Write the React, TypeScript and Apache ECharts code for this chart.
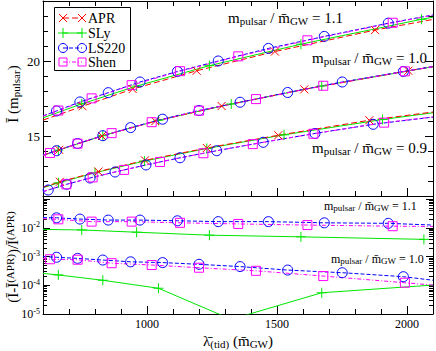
import React, { useEffect, useRef } from 'react';
import * as echarts from 'echarts';

const FONT = 'Liberation Serif';

// axis ranges and tick labels
const X_MIN = 600;
const X_MAX = 2100;
const X_MAJOR = [1000, 1500, 2000];
const Y_TOP_MIN = 11;
const Y_TOP_MAX = 24;
const Y_TOP_MAJOR = [15, 20];
const LOG_MIN = 1e-5;
const LOG_MAX = 0.13;

const EOS = ['APR', 'SLy', 'LS220', 'Shen'];
const RATIOS_TOP = ['1.1', '1.0', '0.9'];
const RATIOS_BOTTOM = ['1.1', '1.0'];

// [lambda_tid, I, 1 = marker / 0 = plain line point]
// m_pulsar / m_GW = 1.1
const APR_11 = [[600, 16.06, 0], [752, 16.98, 1], [945, 18.13, 1], [1191, 19.35, 1], [1492, 20.63, 1], [1877, 22.06, 1], [2100, 22.77, 0]];
const SLY_11 = [[600, 16.21, 0], [749, 17.14, 1], [960, 18.33, 1], [1240, 19.69, 1], [1592, 21.12, 1], [2056, 22.78, 1], [2100, 22.92, 0]];
const LS_11 = [[600, 16.34, 0], [652, 16.67, 1], [742, 17.27, 1], [851, 17.89, 1], [973, 18.6, 1], [1117, 19.3, 1], [1274, 20.0, 1], [1467, 20.84, 1], [1682, 21.64, 1], [1928, 22.52, 1], [2100, 23.07, 0]];
const SHEN_11 = [[600, 16.32, 0], [659, 16.7, 1], [787, 17.51, 1], [941, 18.39, 1], [1127, 19.32, 1], [1351, 20.31, 1], [1617, 21.38, 1], [1945, 22.55, 1], [2100, 23.05, 0]];
// m_pulsar / m_GW = 1.0
const APR_10 = [[600, 13.71, 0], [662, 14.08, 1], [827, 15.0, 1], [1032, 15.99, 1], [1287, 17.0, 1], [1605, 18.11, 1], [2005, 19.35, 1], [2100, 19.62, 0]];
const SLY_10 = [[600, 13.71, 0], [659, 14.06, 1], [830, 15.02, 1], [1044, 16.05, 1], [1324, 17.13, 1], [1672, 18.34, 1], [2100, 19.62, 0]];
const LS_10 = [[600, 13.72, 0], [652, 14.02, 1], [733, 14.5, 1], [830, 15.02, 1], [937, 15.56, 1], [1060, 16.12, 1], [1200, 16.7, 1], [1358, 17.25, 1], [1541, 17.9, 1], [1751, 18.6, 1], [1986, 19.3, 1], [2100, 19.63, 0]];
const SHEN_10 = [[600, 13.71, 0], [627, 13.87, 1], [733, 14.49, 1], [864, 15.19, 1], [1018, 15.92, 1], [1200, 16.69, 1], [1419, 17.46, 1], [1678, 18.35, 1], [1992, 19.31, 1], [2100, 19.62, 0]];
// m_pulsar / m_GW = 0.9
const APR_09 = [[600, 11.58, 0], [665, 11.95, 1], [813, 12.63, 1], [992, 13.38, 1], [1230, 14.2, 1], [1505, 15.05, 1], [1855, 16.05, 1], [2100, 16.6, 0]];
const SLY_09 = [[600, 11.55, 0], [660, 11.88, 1], [800, 12.55, 1], [990, 13.33, 1], [1230, 14.17, 1], [1527, 15.08, 1], [1906, 16.1, 1], [2100, 16.55, 0]];
const LS_09 = [[600, 11.28, 0], [620, 11.4, 1], [691, 11.78, 1], [781, 12.2, 1], [877, 12.6, 1], [996, 13.07, 1], [1127, 13.55, 1], [1268, 14.02, 1], [1447, 14.58, 1], [1646, 15.17, 1], [1870, 15.78, 1], [2100, 16.26, 0]];
const SHEN_09 = [[600, 11.3, 0], [690, 11.78, 1], [791, 12.24, 1], [912, 12.74, 1], [1050, 13.27, 1], [1217, 13.85, 1], [1407, 14.46, 1], [1640, 15.15, 1], [1912, 15.89, 1], [2100, 16.27, 0]];

// relative difference (I - I_APR) / I_APR
const SLY_D11 = [[600, 0.0089, 0], [749, 0.0085, 1], [960, 0.0071, 1], [1240, 0.0056, 1], [1592, 0.0049, 1], [2065, 0.004, 1]];
const LS_D11 = [[600, 0.0229, 0], [652, 0.0226, 1], [742, 0.0204, 1], [851, 0.0188, 1], [973, 0.0188, 1], [1117, 0.0178, 1], [1274, 0.0166, 1], [1467, 0.0166, 1], [1682, 0.0151, 1], [1928, 0.0145, 1], [2100, 0.0126, 0]];
const SHEN_D11 = [[600, 0.021, 0], [659, 0.02, 1], [787, 0.0166, 1], [941, 0.0166, 1], [1127, 0.0151, 1], [1351, 0.0138, 1], [1617, 0.0126, 1], [1945, 0.0115, 1], [2100, 0.0113, 0]];
const SLY_D10 = [[600, 0.00026, 0], [659, 0.00023, 1], [830, 0.00015, 1], [1044, 0.000079, 1], [1324, 0.0000065, 0], [1672, 0.000055, 1], [2100, 0.000102, 0]];
const LS_D10 = [[600, 0.001, 0], [652, 0.00095, 1], [733, 0.00087, 1], [830, 0.00076, 1], [937, 0.00066, 1], [1060, 0.00062, 1], [1200, 0.00054, 1], [1358, 0.00045, 1], [1541, 0.00034, 1], [1751, 0.000275, 1], [1986, 0.0002, 1], [2100, 0.00015, 0]];
const SHEN_D10 = [[600, 0.00085, 0], [627, 0.00081, 1], [733, 0.00078, 1], [864, 0.00059, 1], [1018, 0.00051, 1], [1200, 0.00041, 1], [1419, 0.00032, 1], [1678, 0.00021, 1], [1992, 0.000123, 1], [2100, 0.000102, 0]];

const CROSS = 'path://M0,0L10,10M10,0L0,10';
const PLUS = 'path://M5,0L5,10M0,5L10,5';

const STYLE: Record<string, any> = {
  APR: { color: '#ff0000', dash: [6, 3], symbol: CROSS, size: 8 },
  SLy: { color: '#00e600', dash: 'solid', symbol: PLUS, size: 10 },
  LS220: { color: '#0000ff', dash: [4, 2], symbol: 'circle', size: 10 },
  Shen: { color: '#ff00ff', dash: [4, 2, 1, 2], symbol: 'rect', size: 9 },
};

function mkSeries(name: string, eos: string, pts: number[][], xi: number, yi: number) {
  const s = STYLE[eos];
  return {
    type: 'line',
    name,
    xAxisIndex: xi,
    yAxisIndex: yi,
    data: pts.map((p) => (p[2] ? { value: [p[0], p[1]] } : { value: [p[0], p[1]], symbol: 'none' })),
    symbol: s.symbol,
    symbolSize: s.size,
    showSymbol: true,
    clip: true,
    silent: true,
    lineStyle: { color: s.color, width: 1, type: s.dash },
    itemStyle: { color: 'rgba(0,0,0,0)', borderColor: s.color, borderWidth: 1 },
    emphasis: { disabled: true },
  };
}

const LOG_MINOR: number[] = [];
for (let n = -5; n <= -1; n++) {
  for (let k = 2; k <= 9; k++) {
    const v = n + Math.log10(k);
    if (v < Math.log10(LOG_MAX)) LOG_MINOR.push(v);
  }
}

const TICK = { color: '#000', width: 1 };
const noSplit = { show: false };

function xAxes(grid: number, pos: string, labels: boolean) {
  return [
    {
      gridIndex: grid, type: 'value', position: pos, min: X_MIN, max: X_MAX,
      axisLine: { show: true, onZero: false, lineStyle: TICK },
      axisTick: { show: true, inside: true, length: 8, customValues: X_MAJOR, lineStyle: TICK },
      axisLabel: labels
        ? { show: true, customValues: X_MAJOR, formatter: (v: number) => String(v), color: '#000', fontFamily: FONT, fontSize: 12, margin: 4 }
        : { show: false },
      splitLine: noSplit,
    },
    {
      gridIndex: grid, type: 'value', position: pos, min: X_MIN, max: X_MAX, interval: 100,
      axisLine: { show: false, onZero: false },
      axisTick: { show: true, inside: true, length: 5, lineStyle: TICK },
      axisLabel: { show: false },
      splitLine: noSplit,
    },
  ];
}

function yTopAxes(pos: string, labels: boolean) {
  return [
    {
      gridIndex: 0, type: 'value', position: pos, min: Y_TOP_MIN, max: Y_TOP_MAX,
      axisLine: { show: true, onZero: false, lineStyle: TICK },
      axisTick: { show: true, inside: true, length: 8, customValues: Y_TOP_MAJOR, lineStyle: TICK },
      axisLabel: labels
        ? { show: true, customValues: Y_TOP_MAJOR, formatter: (v: number) => String(v), color: '#000', fontFamily: FONT, fontSize: 13, margin: 3 }
        : { show: false },
      splitLine: noSplit,
    },
    {
      gridIndex: 0, type: 'value', position: pos, min: Y_TOP_MIN, max: Y_TOP_MAX, interval: 1,
      axisLine: { show: false, onZero: false },
      axisTick: { show: true, inside: true, length: 5, lineStyle: TICK },
      axisLabel: { show: false },
      splitLine: noSplit,
    },
  ];
}

function yLogAxes(pos: string, labels: boolean) {
  return [
    {
      gridIndex: 1, type: 'log', position: pos, min: LOG_MIN, max: LOG_MAX, logBase: 10,
      axisLine: { show: true, onZero: false, lineStyle: TICK },
      axisTick: { show: true, inside: true, length: 7, lineStyle: TICK },
      axisLabel: labels
        ? {
            show: true,
            margin: 3,
            fontFamily: FONT,
            formatter: (v: number) => {
              const l = Math.log10(v);
              const e = Math.round(l);
              if (Math.abs(l - e) > 0.01 || e > -2) return '';
              return `{b|10}{s|${e}}`;
            },
            rich: {
              b: { fontFamily: FONT, fontSize: 12, color: '#000' },
              s: { fontFamily: FONT, fontSize: 8, color: '#000', padding: [0, 0, 6, 0] },
            },
          }
        : { show: false },
      splitLine: noSplit,
    },
    {
      gridIndex: 1, type: 'value', position: pos, min: Math.log10(LOG_MIN), max: Math.log10(LOG_MAX),
      axisLine: { show: false, onZero: false },
      axisTick: { show: true, inside: true, length: 4, customValues: LOG_MINOR, lineStyle: TICK },
      axisLabel: { show: false },
      splitLine: noSplit,
    },
  ];
}

const RICH = {
  t: { fontFamily: FONT, fontSize: 15, color: '#000' },
  s: { fontFamily: FONT, fontSize: 11, color: '#000', padding: [5, 0, 0, 0] },
  p: { fontFamily: FONT, fontSize: 11, color: '#000', padding: [0, 0, 7, 0] },
  ts: { fontFamily: FONT, fontSize: 12, color: '#000' },
  ss: { fontFamily: FONT, fontSize: 9, color: '#000', padding: [4, 0, 0, 0] },
};

function ratioText(r: string, small: boolean) {
  const t = small ? 'ts' : 't';
  const s = small ? 'ss' : 's';
  return `{${t}|m}{${s}|pulsar}{${t}| / m\u0304}{${s}|GW}{${t}| = ${r}}`;
}

function annot(x: number, y: number, text: string) {
  return {
    type: 'text', x, y, z: 100, silent: true,
    style: { text, rich: RICH, fontFamily: FONT, align: 'left', verticalAlign: 'middle', fill: '#000' },
  };
}

function legendItems() {
  const items: any[] = [
    { type: 'rect', z: 90, shape: { x: 54.5, y: 7.5, width: 76, height: 63 }, style: { fill: '#fff', stroke: '#000', lineWidth: 1 } },
  ];
  const rows = [18, 33, 48, 62];
  const x1 = 63;
  const x2 = 82;
  EOS.forEach((e, i) => {
    const s = STYLE[e];
    const y = rows[i];
    items.push({
      type: 'line', z: 91, shape: { x1, y1: y, x2, y2: y },
      style: { stroke: s.color, lineWidth: 1, lineDash: s.dash === 'solid' ? null : s.dash },
    });
    [x1, x2].forEach((cx) => {
      const st = { stroke: s.color, lineWidth: 1, fill: 'none' };
      if (e === 'APR') {
        items.push({ type: 'line', z: 92, shape: { x1: cx - 4, y1: y - 4, x2: cx + 4, y2: y + 4 }, style: st });
        items.push({ type: 'line', z: 92, shape: { x1: cx - 4, y1: y + 4, x2: cx + 4, y2: y - 4 }, style: st });
      } else if (e === 'SLy') {
        items.push({ type: 'line', z: 92, shape: { x1: cx - 5, y1: y, x2: cx + 5, y2: y }, style: st });
        items.push({ type: 'line', z: 92, shape: { x1: cx, y1: y - 5, x2: cx, y2: y + 5 }, style: st });
      } else if (e === 'LS220') {
        items.push({ type: 'circle', z: 92, shape: { cx, cy: y, r: 4.5 }, style: st });
      } else {
        items.push({ type: 'rect', z: 92, shape: { x: cx - 4, y: y - 4, width: 8, height: 8 }, style: st });
      }
    });
    items.push({
      type: 'text', z: 92, x: 88, y,
      style: { text: e, fontFamily: FONT, fontSize: 14, fill: '#000', align: 'left', verticalAlign: 'middle' },
    });
  });
  return items;
}

const TOP_SETS = [
  [SLY_11, APR_11, LS_11, SHEN_11],
  [SLY_10, APR_10, LS_10, SHEN_10],
  [SLY_09, APR_09, LS_09, SHEN_09],
];
const TOP_EOS_ORDER = ['SLy', 'APR', 'LS220', 'Shen'];
const BOTTOM_SETS = [
  [SLY_D11, LS_D11, SHEN_D11],
  [SLY_D10, LS_D10, SHEN_D10],
];
const BOTTOM_EOS_ORDER = ['SLy', 'LS220', 'Shen'];

function buildOption() {
  const series: any[] = [];
  TOP_SETS.forEach((set, gi) => {
    set.forEach((pts, k) => {
      const e = TOP_EOS_ORDER[k];
      series.push(mkSeries(`${e} ${RATIOS_TOP[gi]}`, e, pts, 0, 0));
    });
  });
  BOTTOM_SETS.forEach((set, gi) => {
    set.forEach((pts, k) => {
      const e = BOTTOM_EOS_ORDER[k];
      series.push(mkSeries(`${e} diff ${RATIOS_BOTTOM[gi]}`, e, pts, 4, 4));
    });
  });

  return {
    animation: false,
    backgroundColor: '#fff',
    textStyle: { fontFamily: FONT },
    grid: [
      { left: 43, right: 3, top: 1, height: 195 },
      { left: 43, right: 3, top: 196, height: 118 },
    ],
    xAxis: [...xAxes(0, 'bottom', false), ...xAxes(0, 'top', false), ...xAxes(1, 'bottom', true)],
    yAxis: [...yTopAxes('left', true), ...yTopAxes('right', false), ...yLogAxes('left', true), ...yLogAxes('right', false)],
    series,
    graphic: [
      ...legendItems(),
      annot(228, 18, ratioText(RATIOS_TOP[0], false)),
      annot(312, 58, ratioText(RATIOS_TOP[1], false)),
      annot(312, 148, ratioText(RATIOS_TOP[2], false)),
      annot(324, 206, ratioText(RATIOS_BOTTOM[0], true)),
      annot(331, 259, ratioText(RATIOS_BOTTOM[1], true)),
      {
        type: 'text', x: 238, y: 341, z: 100, silent: true,
        style: { text: '{t|\u03bb\u0304}{s|(tid)}{t| (m\u0304}{s|GW}{t|)}', rich: RICH, fontFamily: FONT, align: 'center', verticalAlign: 'middle' },
      },
      {
        type: 'text', x: 13, y: 94, z: 100, silent: true, rotation: Math.PI / 2,
        style: { text: '{t|\u012a (m}{s|pulsar}{t|)}', rich: RICH, fontFamily: FONT, align: 'center', verticalAlign: 'middle' },
      },
      {
        type: 'text', x: 13, y: 257, z: 100, silent: true, rotation: Math.PI / 2,
        style: { text: '{t|(\u012a-\u012a}{p|(APR)}{t|)/\u012a}{p|(APR)}', rich: RICH, fontFamily: FONT, align: 'center', verticalAlign: 'middle' },
      },
    ],
  };
}

export default function App() {
  const ref = useRef<HTMLDivElement>(null);
  useEffect(() => {
    document.body.style.margin = '0';
    const chart = echarts.init(ref.current!, null, { renderer: 'svg' });
    chart.setOption(buildOption() as any);
    return () => chart.dispose();
  }, []);
  return <div ref={ref} style={{ width: 436, height: 351, position: 'fixed', left: 0, top: 0 }} />;
}
